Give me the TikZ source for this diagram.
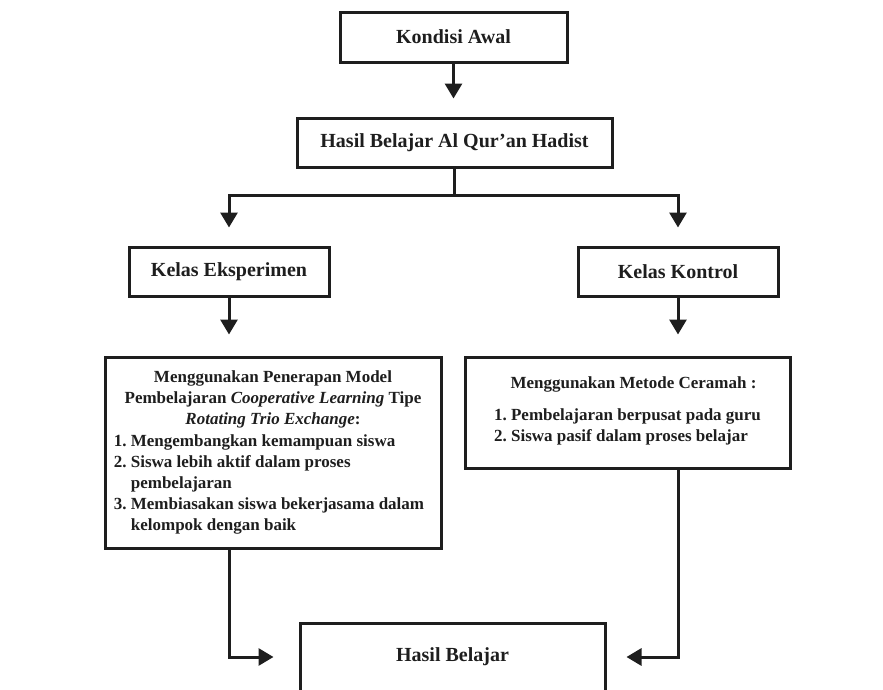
\documentclass[tikz,border=0pt]{standalone}
\usepackage{fontspec}
\setmainfont{Liberation Serif}
\usepackage{tikz}
\usetikzlibrary{arrows.meta,positioning,calc}
\definecolor{inkgray}{HTML}{1E1E1E}
\tikzstyle{headbox}=[draw=inkgray,line width=3pt,inner sep=0pt,text=inkgray,font=\fontsize{20}{24}\selectfont\bfseries]
\tikzstyle{listbox}=[draw=inkgray,line width=3pt,inner sep=6pt,align=center,text=inkgray,font=\fontsize{17}{21}\selectfont\bfseries]
\tikzstyle{flow}=[draw=inkgray,line width=3pt,-{Triangle[width=17pt,length=15pt]}]
\tikzstyle{plainflow}=[draw=inkgray,line width=3pt]

\begin{document}
\begin{tikzpicture}[x=1pt,y=-1pt]
    \useasboundingbox (0,0) rectangle (883,689);

    % top boxes
    \node[headbox,minimum width=227pt,minimum height=50pt] (awal) at (453.5,37) {Kondisi Awal};
    \node[headbox,minimum width=315pt,minimum height=49pt] (hasilqh) at (454.5,142.5) {Hasil Belajar Al Qur’an Hadist};

    % the two classes
    \node[headbox,minimum width=200pt,minimum height=49pt] (eksp) at (229,271.5) {Kelas Eksperimen};
    \node[headbox,minimum width=200pt,minimum height=49pt] (kontrol) at (678,271.5) {Kelas Kontrol};

    % treatments
    \node[listbox,minimum width=336pt,minimum height=191pt] (rte) at (273,452.5) {%
        \begin{tabular}{@{}c@{}}
        Menggunakan Penerapan Model\\
        Pembelajaran \textit{Cooperative Learning} Tipe\\
        \textit{Rotating Trio Exchange}:
        \end{tabular}\\
        \hspace*{-8pt}\begin{tabular}{@{}l@{~}l@{}}
        1. & Mengembangkan kemampuan siswa\\
        2. & Siswa lebih aktif dalam proses\\
           & pembelajaran\\
        3. & Membiasakan siswa bekerjasama dalam\\
           & kelompok dengan baik
        \end{tabular}};
    \node[listbox,minimum width=325pt,minimum height=111pt] (ceramah) at (627.5,412.5) {%
        \hspace*{12pt}Menggunakan Metode Ceramah :\\[13pt]
        \begin{tabular}{@{}l@{~}l@{}}
        1. & Pembelajaran berpusat pada guru\\
        2. & Siswa pasif dalam proses belajar
        \end{tabular}};

    % result
    \node[headbox,minimum width=305pt,minimum height=68pt] (hasil) at (452.5,657) {Hasil Belajar};

    % connectors
    \draw[flow] (awal.south) -- ($(awal.south)+(0,35)$);
    \coordinate (fork) at ($(hasilqh.south)+(0,27)$);
    \draw[plainflow] (hasilqh.south) -- (fork);
    \draw[flow] (fork) -| ($(eksp.north)+(0,-18)$);
    \draw[flow] (fork) -| ($(kontrol.north)+(0,-18)$);
    \draw[flow] (eksp.south) -- ($(eksp.south)+(0,37)$);
    \draw[flow] (kontrol.south) -- ($(kontrol.south)+(0,37)$);
    \draw[flow] (eksp |- rte.south) |- ($(hasil.west)+(-25,0)$);
    \draw[flow] (kontrol |- ceramah.south) |- ($(hasil.east)+(20,0)$);
\end{tikzpicture}
\end{document}
